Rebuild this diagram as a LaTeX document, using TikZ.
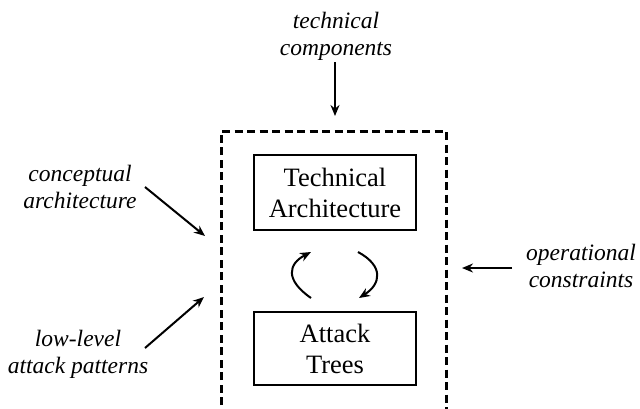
\documentclass[tikz,border=0pt]{standalone}
\usepackage{fontspec}
\setmainfont{Liberation Serif}
\usetikzlibrary{arrows.meta}
\begin{document}
\begin{tikzpicture}[x=1pt,y=-1pt,
  lbl/.style={font=\fontsize{23.5}{27}\selectfont\itshape,align=center,inner sep=0pt},
  blk/.style={draw,line width=1.5pt,font=\fontsize{26.5}{31}\selectfont,align=center,
    minimum width=162pt,inner sep=0pt},
  arr/.style={line width=2pt,-{Stealth[length=11pt,width=9pt]}},
  frame/.style={line width=3pt,dash pattern=on 8pt off 4.5pt}]
\useasboundingbox (0,0) rectangle (640,408);
\clip (0,0) rectangle (640,408);
% labels
\node[lbl] (tc) at (336,36) {technical\\components};
\node[lbl] (ca) at (80,186.5) {conceptual\\architecture};
\node[lbl] (ll) at (78,354) {low-level\\attack patterns};
\node[lbl] (oc) at (581,266) {operational\\constraints};
% boxes
\node[blk,minimum height=75pt] (ta) at (335,192.5) {Technical\\Architecture};
\node[blk,minimum height=73pt] (at) at (335,348.5) {Attack\\Trees};
% dashed frame
\draw[frame] (221,430) -- (221,131) -- (446,131) -- (446,430);
% connector ends
\coordinate (tcS) at (335,62);
\coordinate (tcE) at (335,116);
\coordinate (caS) at (145,187);
\coordinate (caE) at (205,236);
\coordinate (llS) at (145,348);
\coordinate (llE) at (204,297);
\coordinate (ocS) at (512,268);
\coordinate (ocE) at (462,268);
\draw[arr] (tcS) -- (tcE);
\draw[arr] (caS) -- (caE);
\draw[arr] (llS) -- (llE);
\draw[arr] (ocS) -- (ocE);
% cycle arrows
\coordinate (l1) at (311,298);
\coordinate (l2) at (311,252);
\coordinate (r1) at (358,252);
\coordinate (r2) at (359,298);
\draw[arr] (l1) .. controls (285,280) and (288,264) .. (l2);
\draw[arr] (r1) .. controls (384,266) and (381,284) .. (r2);
\end{tikzpicture}
\end{document}
